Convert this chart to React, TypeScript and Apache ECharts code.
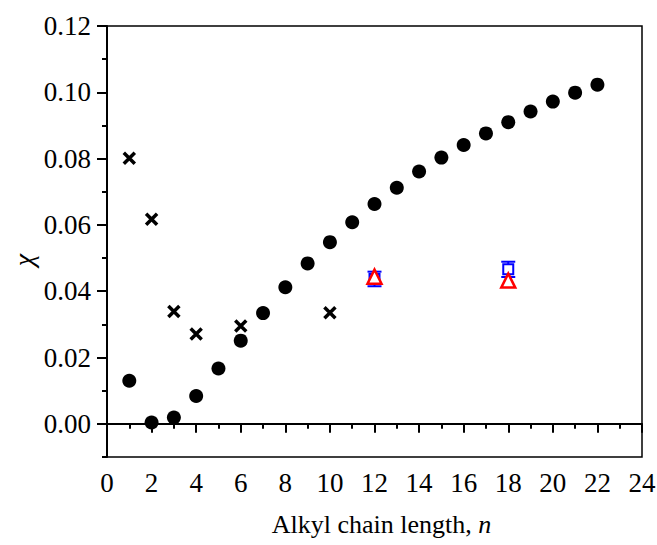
import React, { useEffect, useRef } from "react";
import * as echarts from "echarts";

const chainN = [1, 2, 3, 4, 5, 6, 7, 8, 9, 10, 11, 12, 13, 14, 15, 16, 17, 18, 19, 20, 21, 22];
const circleValues = [0.013, 0.0004, 0.0019, 0.0084, 0.0167, 0.0251, 0.0334, 0.0412, 0.0484, 0.0548, 0.0608, 0.0663, 0.0712, 0.0761, 0.0803, 0.0841, 0.0876, 0.091, 0.0942, 0.0972, 0.0999, 0.1023];
const crossN = [1, 2, 3, 4, 6, 10];
const crossValues = [0.0801, 0.0617, 0.0339, 0.0271, 0.0295, 0.0335];
const squareN = [12, 18];
const squareValues = [0.0437, 0.0466];
const squareErr = [0.0022, 0.0023];
const triangleN = [12, 18];
const triangleValues = [0.0444, 0.0432];
const yTickValues = [0, 0.02, 0.04, 0.06, 0.08, 0.1, 0.12];
const yMinorTickValues = [-0.01, 0.01, 0.03, 0.05, 0.07, 0.09, 0.11];

const FONT = "Liberation Serif";

export default function App() {
  const ref = useRef<HTMLDivElement>(null);
  useEffect(() => {
    if (!ref.current) return;
    const chart = echarts.init(ref.current, null, { renderer: "svg" });
    const errData = squareN.map((n, i) => [n, squareValues[i] - squareErr[i], squareValues[i] + squareErr[i]]);
    chart.setOption({
      animation: false,
      backgroundColor: "#fff",
      textStyle: { fontFamily: FONT, color: "#000" },
      grid: {
        left: 107,
        top: 26,
        right: 15,
        bottom: 88,
        outerBoundsMode: "none",
        containLabel: false,
        show: true,
        borderColor: "#000",
        borderWidth: 1.5,
        backgroundColor: "transparent",
      },
      graphic: [
        {
          type: "text",
          x: 23,
          y: 260,
          rotation: Math.PI / 2,
          style: {
            text: "χ",
            fontFamily: FONT,
            fontSize: 28,
            fontStyle: "italic",
            fill: "#000",
            textAlign: "center",
            textVerticalAlign: "middle",
          },
        },
      ],
      xAxis: {
        type: "value",
        min: 0,
        max: 24,
        interval: 2,
        name: "Alkyl chain length, {i|n}",
        nameLocation: "middle",
        nameGap: 54,
        nameTextStyle: {
          fontFamily: FONT,
          fontSize: 26,
          color: "#000",
          padding: [0, 0, 0, 14],
          rich: { i: { fontFamily: FONT, fontSize: 26, fontStyle: "italic", color: "#000" } },
        },
        axisLine: { show: true, lineStyle: { color: "#000", width: 2 } },
        axisTick: { show: true, inside: false, length: 9, lineStyle: { color: "#000", width: 2 } },
        minorTick: { show: true, splitNumber: 2, length: 5, lineStyle: { color: "#000", width: 2 } },
        axisLabel: { fontFamily: FONT, fontSize: 27, color: "#000", margin: 12 },
        splitLine: { show: false },
      },
      yAxis: [
        {
          type: "value",
          min: -0.01,
          max: 0.12,
          axisLine: { show: true, lineStyle: { color: "#000", width: 2 } },
          axisTick: { show: true, inside: false, length: 10, customValues: yTickValues, lineStyle: { color: "#000", width: 2 } },
          axisLabel: {
            fontFamily: FONT,
            fontSize: 27,
            color: "#000",
            margin: 16,
            customValues: yTickValues,
            formatter: (v: number) => v.toFixed(2),
          },
          splitLine: { show: false },
        },
        {
          type: "value",
          min: -0.01,
          max: 0.12,
          position: "left",
          axisLine: { show: false },
          axisTick: { show: true, inside: false, length: 5, customValues: yMinorTickValues, lineStyle: { color: "#000", width: 2 } },
          axisLabel: { show: false, customValues: yMinorTickValues },
          splitLine: { show: false },
        },
      ],
      series: [
        {
          type: "scatter",
          symbol: "circle",
          symbolSize: 14,
          itemStyle: { color: "#000", opacity: 1 },
          data: chainN.map((n, i) => [n, circleValues[i]]),
          z: 2,
        },
        {
          type: "scatter",
          symbol: "path://M0,0L10,10M10,0L0,10",
          symbolSize: 11,
          itemStyle: { color: "none", borderColor: "#000", borderWidth: 3.5, opacity: 1 },
          data: crossN.map((n, i) => [n, crossValues[i]]),
          z: 3,
        },
        {
          type: "custom",
          renderItem: (params: any, api: any) => {
            const x = api.value(0);
            const lo = api.coord([x, api.value(1)]);
            const hi = api.coord([x, api.value(2)]);
            const w = 7;
            const style = { stroke: "#0000ff", lineWidth: 2 };
            return {
              type: "group",
              children: [
                { type: "line", shape: { x1: lo[0], y1: lo[1], x2: hi[0], y2: hi[1] }, style },
                { type: "line", shape: { x1: lo[0] - w, y1: lo[1], x2: lo[0] + w, y2: lo[1] }, style },
                { type: "line", shape: { x1: hi[0] - w, y1: hi[1], x2: hi[0] + w, y2: hi[1] }, style },
              ],
            };
          },
          data: errData,
          z: 4,
        },
        {
          type: "scatter",
          symbol: "rect",
          symbolSize: 10,
          itemStyle: { color: "#fff", borderColor: "#0000ff", borderWidth: 2, opacity: 1 },
          data: squareN.map((n, i) => [n, squareValues[i]]),
          z: 5,
        },
        {
          type: "scatter",
          symbol: "triangle",
          symbolSize: 14,
          itemStyle: { color: "#fff", borderColor: "#ff0000", borderWidth: 2.5, opacity: 1 },
          data: triangleN.map((n, i) => [n, triangleValues[i]]),
          z: 6,
        },
      ],
    });
    return () => chart.dispose();
  }, []);
  return (
    <div
      ref={ref}
      style={{ position: "fixed", left: 0, top: 0, width: 657, height: 545, background: "#fff" }}
    />
  );
}
